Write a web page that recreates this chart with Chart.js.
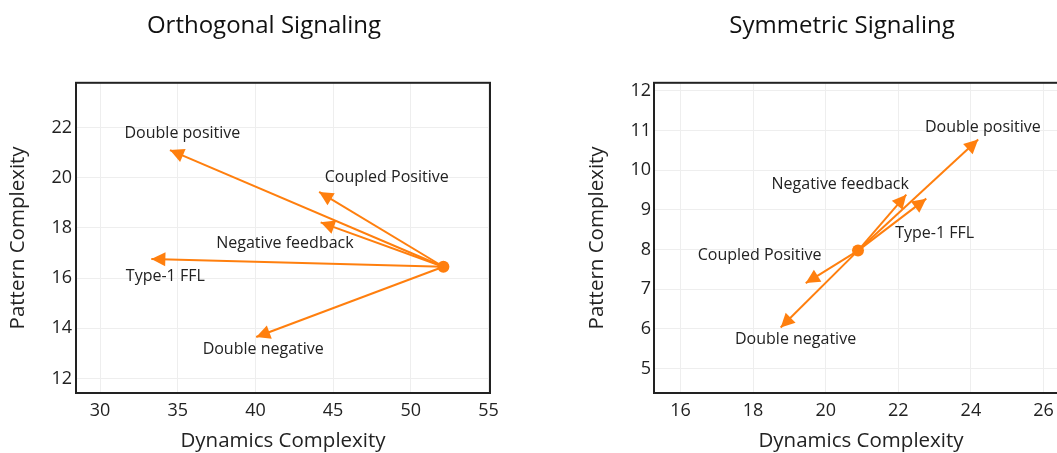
<!DOCTYPE html>
<html>
<head>
<meta charset="utf-8">
<script src="https://cdn.jsdelivr.net/npm/chart.js@4/dist/chart.umd.min.js"></script>
<style>
html, body { margin: 0; padding: 0; background: #fff; width: 1057px; height: 453px; overflow: hidden; }
.box { position: absolute; top: 0; }
</style>
</head>
<body>
<div class="box" style="left:0"><canvas id="orthoChart" width="528" height="453"></canvas></div>
<div class="box" style="left:528px"><canvas id="symChart" width="628" height="453"></canvas></div>
<script>
// motif names, same order in every array below
const motifs = ['Double positive', 'Coupled Positive', 'Negative feedback', 'Type-1 FFL', 'Double negative'];

// Orthogonal signaling
const orthoOrigin = { x: 52.1, y: 16.45 };
const orthoTipX = [34.5, 44.1, 44.2, 33.3, 40.05];
const orthoTipY = [21.1, 19.43, 18.22, 16.76, 13.65];
const orthoLabelX = [35.3, 48.45, 41.9, 34.2, 40.5];
const orthoLabelY = [21.77, 20.0, 17.39, 16.05, 13.17];
const orthoTicksX = [30, 35, 40, 45, 50, 55];
const orthoTicksY = [12, 14, 16, 18, 20, 22];

// Symmetric signaling
const symOrigin = { x: 20.89, y: 7.97 };
const symTipX = [24.2, 19.45, 22.22, 22.77, 18.76];
const symTipY = [10.77, 7.15, 9.38, 9.28, 6.03];
const symLabelX = [24.33, 18.18, 20.4, 23.0, 19.17];
const symLabelY = [11.08, 7.85, 9.65, 8.41, 5.74];
const symTicksX = [16, 18, 20, 22, 24, 26];
const symTicksY = [5, 6, 7, 8, 9, 10, 11, 12];

const orange = '#ff7f0e';
const textColor = '#222';

Chart.defaults.font.family = "'Open Sans', sans-serif";
Chart.defaults.color = textColor;

// frame around the plot area
const framePlugin = {
    id: 'frame',
    beforeDatasetsDraw(chart) {
        const a = chart.chartArea;
        const ctx = chart.ctx;
        ctx.save();
        ctx.strokeStyle = '#222';
        ctx.lineWidth = 2;
        ctx.strokeRect(a.left, a.top, a.right - a.left, a.bottom - a.top);
        ctx.restore();
    }
};

// arrow heads + motif labels
const arrowPlugin = {
    id: 'arrows',
    afterDatasetsDraw(chart, args, opts) {
        const ctx = chart.ctx;
        const xs = chart.scales.x, ys = chart.scales.y;
        const ox = xs.getPixelForValue(opts.origin.x), oy = ys.getPixelForValue(opts.origin.y);
        ctx.save();
        opts.tipX.forEach((tx, i) => {
            const px = xs.getPixelForValue(tx), py = ys.getPixelForValue(opts.tipY[i]);
            const ang = Math.atan2(py - oy, px - ox);
            const len = 14, half = 7;
            ctx.fillStyle = orange;
            ctx.beginPath();
            ctx.moveTo(px, py);
            ctx.lineTo(px - len * Math.cos(ang) + half * Math.sin(ang), py - len * Math.sin(ang) - half * Math.cos(ang));
            ctx.lineTo(px - len * Math.cos(ang) - half * Math.sin(ang), py - len * Math.sin(ang) + half * Math.cos(ang));
            ctx.closePath();
            ctx.fill();
        });
        ctx.font = "16px 'Open Sans', sans-serif";
        ctx.fillStyle = textColor;
        ctx.textAlign = 'center';
        ctx.textBaseline = 'middle';
        motifs.forEach((m, i) => {
            ctx.fillText(m, xs.getPixelForValue(opts.labelX[i]), ys.getPixelForValue(opts.labelY[i]));
        });
        ctx.restore();
    }
};

function makeChart(id, cfg) {
    const datasets = motifs.map((m, i) => ({
        label: m,
        data: [cfg.origin, { x: cfg.tipX[i], y: cfg.tipY[i] }],
        showLine: true,
        borderColor: orange,
        borderWidth: 2,
        pointRadius: 0
    }));
    datasets.push({
        label: 'origin',
        data: [cfg.origin],
        pointRadius: 6,
        backgroundColor: orange,
        borderWidth: 0
    });

    return new Chart(document.getElementById(id), {
        type: 'scatter',
        data: { datasets: datasets },
        options: {
            responsive: false,
            animation: false,
            layout: { padding: 0 },
            plugins: {
                legend: { display: false },
                tooltip: { enabled: false },
                title: {
                    display: true,
                    text: cfg.title,
                    font: { size: 24, weight: 'normal' },
                    color: '#111',
                    padding: { top: 12, bottom: 42 }
                },
                arrows: { origin: cfg.origin, tipX: cfg.tipX, tipY: cfg.tipY, labelX: cfg.labelX, labelY: cfg.labelY }
            },
            scales: {
                x: {
                    type: 'linear',
                    min: cfg.xRange[0],
                    max: cfg.xRange[1],
                    afterBuildTicks: s => { s.ticks = cfg.ticksX.map(v => ({ value: v })); },
                    afterFit: s => { s.height = 60; },
                    grid: { color: '#eeeeee', drawTicks: false },
                    border: { display: false },
                    ticks: { padding: 7, font: { size: 18 }, color: textColor },
                    title: { display: true, text: 'Dynamics Complexity', font: { size: 20.5 }, color: textColor, padding: { top: 0, bottom: 0 } }
                },
                y: {
                    type: 'linear',
                    min: cfg.yRange[0],
                    max: cfg.yRange[1],
                    afterBuildTicks: s => { s.ticks = cfg.ticksY.map(v => ({ value: v })); },
                    afterFit: s => { s.width = cfg.yWidth; },
                    grid: { color: '#eeeeee', drawTicks: false },
                    border: { display: false },
                    ticks: { padding: cfg.yTickPad, font: { size: 18 }, color: textColor },
                    title: { display: true, text: 'Pattern Complexity', font: { size: 20.5 }, color: textColor, padding: { top: cfg.yTitlePad, bottom: 0 } }
                },
                // empty margin on the right so the title stays centred on the canvas
                yRight: {
                    type: 'linear',
                    position: 'right',
                    afterFit: s => { s.width = cfg.padRight; },
                    grid: { display: false },
                    border: { display: false },
                    ticks: { display: false }
                }
            }
        },
        plugins: [framePlugin, arrowPlugin]
    });
}

makeChart('orthoChart', {
    title: 'Orthogonal Signaling',
    origin: orthoOrigin, tipX: orthoTipX, tipY: orthoTipY, labelX: orthoLabelX, labelY: orthoLabelY,
    ticksX: orthoTicksX, ticksY: orthoTicksY,
    xRange: [28.45, 55.1], yRange: [11.42, 23.78],
    padRight: 38, yWidth: 76, yTickPad: 4, yTitlePad: 6
});

makeChart('symChart', {
    title: 'Symmetric Signaling',
    origin: symOrigin, tipX: symTipX, tipY: symTipY, labelX: symLabelX, labelY: symLabelY,
    ticksX: symTicksX, ticksY: symTicksY,
    xRange: [15.27, 26.675], yRange: [4.38, 12.2],
    padRight: 88, yWidth: 126, yTickPad: 3, yTitlePad: 57
});
</script>
</body>
</html>
